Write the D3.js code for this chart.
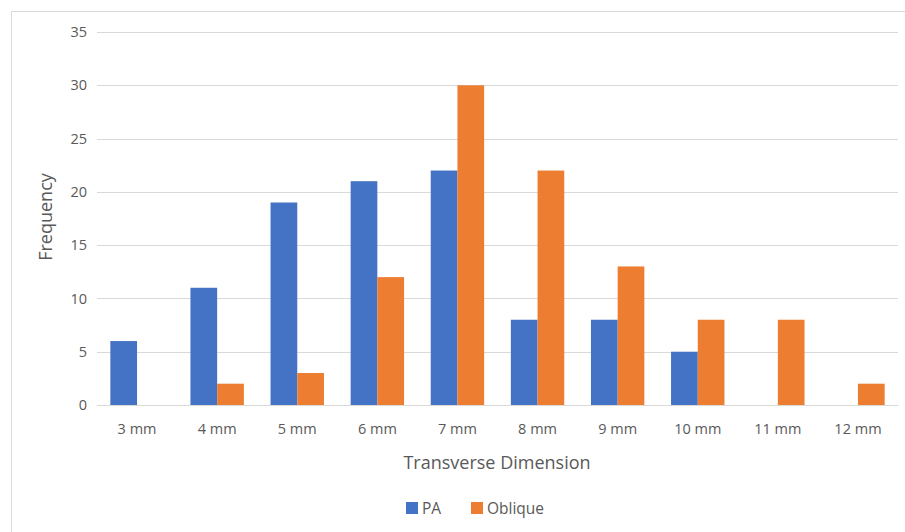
<!DOCTYPE html>
<html><head><meta charset="utf-8">
<script src="https://cdn.jsdelivr.net/npm/d3@7"></script>
<style>body{margin:0;background:#fff;} text{font-family:"Open Sans",sans-serif;fill:#595959;}</style>
</head><body><svg id="c" width="905" height="532"></svg>
<script>
const categories = ["3 mm","4 mm","5 mm","6 mm","7 mm","8 mm","9 mm","10 mm","11 mm","12 mm"];
const paValues = [6,11,19,21,22,8,8,5,0,0];
const obliqueValues = [0,2,3,12,30,22,13,8,8,2];
const seriesNames = ["PA","Oblique"];
const yTicks = [0,5,10,15,20,25,30,35];
const colors = ["#4472C4","#ED7D31"];

const svg = d3.select("#c");
svg.append("rect").attr("x",11.5).attr("y",11.5).attr("width",905).attr("height",540)
  .attr("fill","#fff").attr("stroke","#d9d9d9");

const m = {l:97,r:898,t:32,b:405};
const x = d3.scaleBand().domain(categories).range([m.l,m.r]).paddingInner(1/3).paddingOuter(1/6);
const y = d3.scaleLinear().domain([0,35]).range([m.b,m.t]);
const sub = d3.scaleBand().domain(seriesNames).range([0,x.bandwidth()]);

svg.append("g").selectAll("line").data(yTicks).join("line")
  .attr("x1",m.l).attr("x2",m.r).attr("y1",d=>Math.round(y(d))+0.5).attr("y2",d=>Math.round(y(d))+0.5)
  .attr("stroke","#d9d9d9").attr("stroke-width",1);

const yAxis = svg.append("g").attr("transform",`translate(${m.l-10},0)`)
  .call(d3.axisLeft(y).tickValues(yTicks).tickSize(0).tickPadding(0));
yAxis.select(".domain").remove();
yAxis.selectAll("text").attr("font-size",14.5).style("font-family","Open Sans").attr("fill","#595959");

const data = [paValues, obliqueValues];
seriesNames.forEach((s,i)=>{
  svg.append("g").selectAll("rect").data(categories).join("rect")
    .attr("x",c=>x(c)+sub(s)).attr("width",sub.bandwidth())
    .attr("y",(c,j)=>y(data[i][j])).attr("height",(c,j)=>y(0)-y(data[i][j]))
    .attr("fill",colors[i]);
});

const xAxis = svg.append("g").attr("transform",`translate(0,${m.b})`)
  .call(d3.axisBottom(x).tickSize(0).tickPadding(19));
xAxis.select(".domain").attr("stroke","#d9d9d9");
xAxis.selectAll("text").attr("font-size",14.5).style("font-family","Open Sans").attr("fill","#595959");

svg.append("text").attr("x",497).attr("y",469).attr("text-anchor","middle")
  .attr("font-size",18).text("Transverse Dimension");
svg.append("text").attr("transform","translate(52,217) rotate(-90)").attr("text-anchor","middle")
  .attr("font-size",18).text("Frequency");

const lg = svg.append("g");
const lx = [406,471];
seriesNames.forEach((s,i)=>{
  lg.append("rect").attr("x",lx[i]).attr("y",502).attr("width",12).attr("height",12).attr("fill",colors[i]);
  lg.append("text").attr("x",lx[i]+16).attr("y",514).attr("font-size",15.5).text(s);
});
</script></body></html>
